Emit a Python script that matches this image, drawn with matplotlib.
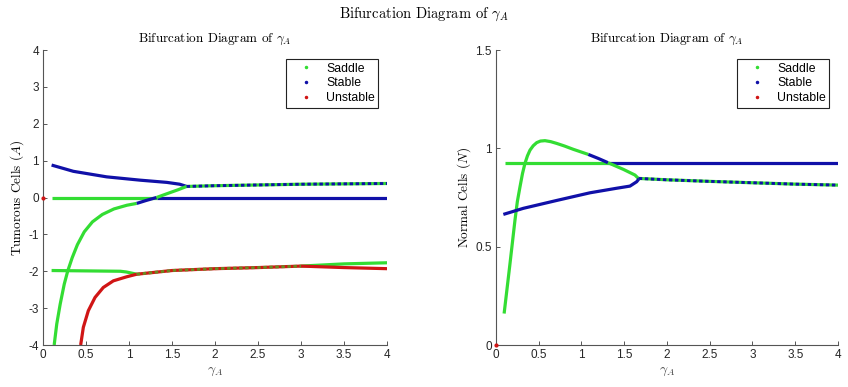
import matplotlib
matplotlib.use("Agg")
import matplotlib.pyplot as plt
from matplotlib.lines import Line2D

plt.rcParams['mathtext.fontset'] = 'cm'

GREEN = '#33dd33'
BLUE = '#1010a8'
RED = '#d01515'

# ---------------- Left panel data: Tumorous cells (A) ----------------
A_blue_top_x = [0.1, 0.353, 0.74, 1.13, 1.44, 1.59, 1.67]
A_blue_top_y = [0.88, 0.71, 0.56, 0.47, 0.41, 0.36, 0.30]

A_mixed_top_x = [1.67, 2.0, 2.5, 3.0, 3.5, 4.0]
A_mixed_top_y = [0.30, 0.32, 0.34, 0.36, 0.37, 0.38]

A_zero_green_x = [0.1, 1.32]
A_zero_green_y = [0.0, 0.0]
A_zero_blue_x = [1.32, 4.0]
A_zero_blue_y = [0.0, 0.0]

A_rise_green1_x = [0.13, 0.16, 0.2, 0.247, 0.288, 0.34, 0.40, 0.48,
                   0.575, 0.69, 0.825, 0.975, 1.09]
A_rise_green1_y = [-4.0, -3.43, -2.89, -2.35, -1.99, -1.63, -1.28, -0.93,
                   -0.66, -0.46, -0.31, -0.21, -0.16]
A_rise_blue_x = [1.09, 1.2, 1.32]
A_rise_blue_y = [-0.16, -0.08, 0.0]
A_rise_green2_x = [1.32, 1.45, 1.57, 1.67]
A_rise_green2_y = [0.0, 0.11, 0.21, 0.30]

A_sad_m2_x = [0.1, 0.5, 0.9, 0.97, 1.09]
A_sad_m2_y = [-1.98, -1.99, -2.0, -2.02, -2.08]

A_red_rise_x = [0.438, 0.469, 0.527, 0.605, 0.701, 0.818, 0.973, 1.09]
A_red_rise_y = [-4.0, -3.52, -3.07, -2.71, -2.44, -2.26, -2.15, -2.08]

A_mixed_m2_x = [1.09, 1.5, 2.0, 2.5, 3.0]
A_mixed_m2_y = [-2.08, -1.98, -1.93, -1.9, -1.86]

A_green_end_x = [3.0, 3.5, 4.0]
A_green_end_y = [-1.86, -1.8, -1.77]
A_red_end_x = [3.0, 3.5, 4.0]
A_red_end_y = [-1.86, -1.9, -1.93]

A_red_pt = (0.0, 0.0)

# ---------------- Right panel data: Normal cells (N) ----------------
N_flat_green_x = [0.1, 1.31]
N_flat_green_y = [0.927, 0.927]
N_flat_blue_x = [1.31, 4.0]
N_flat_blue_y = [0.927, 0.927]

N_hump_green1_x = [0.095, 0.16, 0.222, 0.25, 0.281, 0.31, 0.339, 0.368, 0.398,
                   0.435, 0.476, 0.52, 0.573, 0.64, 0.71, 0.8, 0.904, 1.08]
N_hump_green1_y = [0.16, 0.40, 0.635, 0.73, 0.805, 0.872, 0.924, 0.962, 0.991,
                   1.013, 1.029, 1.037, 1.039, 1.034, 1.025, 1.012, 0.995, 0.969]
N_hump_blue_x = [1.08, 1.2, 1.31]
N_hump_blue_y = [0.969, 0.948, 0.927]
N_hump_green2_x = [1.31, 1.49, 1.626, 1.665]
N_hump_green2_y = [0.927, 0.893, 0.864, 0.847]

N_low_blue_x = [0.086, 0.32, 0.71, 1.10, 1.41, 1.567, 1.645, 1.676]
N_low_blue_y = [0.664, 0.695, 0.735, 0.774, 0.797, 0.808, 0.830, 0.847]

N_mixed_x = [1.67, 2.0, 2.5, 3.0, 3.5, 4.0]
N_mixed_y = [0.847, 0.84, 0.832, 0.825, 0.818, 0.813]

N_red_pt = (0.0, 0.0)

x_ticks = [0, 0.5, 1, 1.5, 2, 2.5, 3, 3.5, 4]
x_ticklabels = ['0', '0.5', '1', '1.5', '2', '2.5', '3', '3.5', '4']
A_ticks = [-4, -3, -2, -1, 0, 1, 2, 3, 4]
N_ticks = [0, 0.5, 1, 1.5]
N_ticklabels = ['0', '0.5', '1', '1.5']

LW = 2.3

fig = plt.figure(figsize=(8.48, 3.87), dpi=100)
axL = fig.add_axes([0.0507, 0.1085, 0.4057, 0.7623])
axR = fig.add_axes([0.5849, 0.1085, 0.4033, 0.7623])


def solid(ax, x, y, c):
    ax.plot(x, y, color=c, lw=LW, solid_capstyle='butt', solid_joinstyle='round', zorder=2)


def mixed(ax, x, y, c1, c2):
    ax.plot(x, y, color=c1, lw=LW, solid_capstyle='butt', zorder=2)
    ax.plot(x, y, color=c2, lw=LW * 0.9, dashes=(1.2, 0.9), zorder=3)


# Left panel
solid(axL, A_blue_top_x, A_blue_top_y, BLUE)
mixed(axL, A_mixed_top_x, A_mixed_top_y, GREEN, BLUE)
solid(axL, A_zero_green_x, A_zero_green_y, GREEN)
solid(axL, A_zero_blue_x, A_zero_blue_y, BLUE)
solid(axL, A_rise_green1_x, A_rise_green1_y, GREEN)
solid(axL, A_rise_blue_x, A_rise_blue_y, BLUE)
solid(axL, A_rise_green2_x, A_rise_green2_y, GREEN)
solid(axL, A_sad_m2_x, A_sad_m2_y, GREEN)
solid(axL, A_red_rise_x, A_red_rise_y, RED)
mixed(axL, A_mixed_m2_x, A_mixed_m2_y, RED, '#6a8a20')
solid(axL, A_green_end_x, A_green_end_y, GREEN)
solid(axL, A_red_end_x, A_red_end_y, RED)
axL.plot([A_red_pt[0]], [A_red_pt[1]], '.', color=RED, ms=4, zorder=4, clip_on=False)

# Right panel
solid(axR, N_flat_green_x, N_flat_green_y, GREEN)
solid(axR, N_flat_blue_x, N_flat_blue_y, BLUE)
solid(axR, N_hump_green1_x, N_hump_green1_y, GREEN)
solid(axR, N_hump_blue_x, N_hump_blue_y, BLUE)
solid(axR, N_hump_green2_x, N_hump_green2_y, GREEN)
solid(axR, N_low_blue_x, N_low_blue_y, BLUE)
mixed(axR, N_mixed_x, N_mixed_y, GREEN, BLUE)
axR.plot([N_red_pt[0]], [N_red_pt[1]], '.', color=RED, ms=4, zorder=4, clip_on=False)

title = r'Bifurcation Diagram of $\gamma_A$'
for ax, yt, ytl, ylim, ylab in [
        (axL, A_ticks, [str(t) for t in A_ticks], (-4, 4), r'Tumorous Cells $(A)$'),
        (axR, N_ticks, N_ticklabels, (0, 1.5), r'Normal Cells $(N)$')]:
    ax.set_xlim(0, 4)
    ax.set_ylim(*ylim)
    ax.set_xticks(x_ticks)
    ax.set_xticklabels(x_ticklabels)
    ax.set_yticks(yt)
    ax.set_yticklabels(ytl)
    for s in ['top', 'right']:
        ax.spines[s].set_visible(False)
    for s in ['left', 'bottom']:
        ax.spines[s].set_color('#555555')
        ax.spines[s].set_linewidth(0.8)
    ax.tick_params(direction='in', length=3, width=0.7, color='#555555',
                   labelsize=8.5, labelcolor='#262626', pad=3)
    for lab in ax.get_xticklabels() + ax.get_yticklabels():
        lab.set_fontfamily('Liberation Sans')
    ax.set_title(title, fontsize=9.5, family='cmr10', pad=6)
    ax.set_xlabel(r'$\gamma_A$', fontsize=10, color='#444444', labelpad=2)
    ax.set_ylabel(ylab, fontsize=9.5, family='cmr10', labelpad=2)
    handles = [Line2D([], [], ls='none', marker='.', ms=3, color=GREEN),
               Line2D([], [], ls='none', marker='.', ms=3, color=BLUE),
               Line2D([], [], ls='none', marker='.', ms=3, color=RED)]
    leg = ax.legend(handles, ['Saddle', 'Stable', 'Unstable'], loc='upper right',
                    bbox_to_anchor=(0.975, 0.97), fancybox=False, framealpha=1,
                    edgecolor='#222222', prop={'family': 'Liberation Sans', 'size': 8.8},
                    handlelength=2.8, handletextpad=0.2, borderpad=0.3,
                    labelspacing=0.22, borderaxespad=0.0)
    leg.get_frame().set_linewidth(0.8)

fig.suptitle(title, fontsize=10.5, family='cmr10', y=0.985)

fig.savefig('out.png', dpi=100)
